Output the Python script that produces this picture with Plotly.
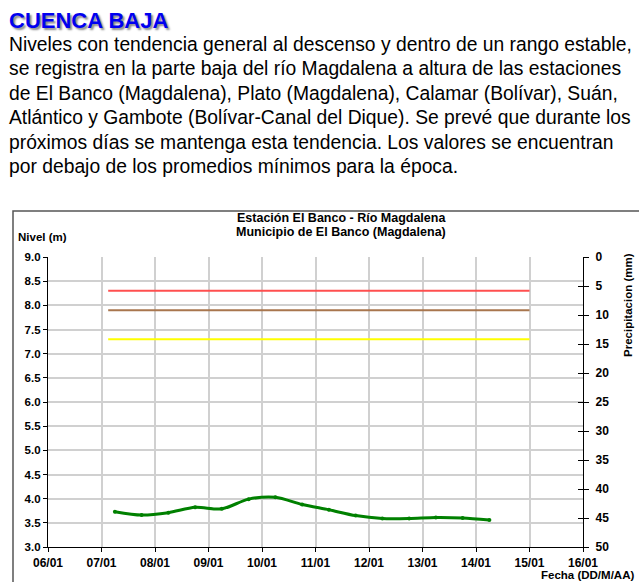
import plotly.graph_objects as go

# ---------------- data ----------------
fechas = ["2016-01-07 06:00", "2016-01-07 18:00", "2016-01-08 06:00", "2016-01-08 18:00",
          "2016-01-09 06:00", "2016-01-09 18:00", "2016-01-10 06:00", "2016-01-10 18:00",
          "2016-01-11 06:00", "2016-01-11 18:00", "2016-01-12 06:00", "2016-01-12 18:00",
          "2016-01-13 06:00", "2016-01-13 18:00", "2016-01-14 06:00"]
nivel = [3.73, 3.66, 3.71, 3.82, 3.79, 3.99, 4.03, 3.88, 3.77, 3.65, 3.59, 3.59, 3.61, 3.60, 3.56]

umbral_fechas = ["2016-01-07 03:00", "2016-01-15 00:00"]
umbral_rojo = 8.3
umbral_cafe = 7.9
umbral_amarillo = 7.3

precip_fechas = []
precip_valores = []

titulo = "CUENCA BAJA"
parrafo = [
    "Niveles con tendencia general al descenso y dentro de un rango estable,",
    "se registra en la parte baja del río Magdalena a altura de las estaciones",
    "de El Banco (Magdalena), Plato (Magdalena), Calamar (Bolívar), Suán,",
    "Atlántico y Gambote (Bolívar-Canal del Dique). Se prevé que durante los",
    "próximos días se mantenga esta tendencia. Los valores se encuentran",
    "por debajo de los promedios mínimos para la época.",
]
titulo_grafico = ["Estación El Banco - Río Magdalena", "Municipio de El Banco (Magdalena)"]

# ---------------- layout helpers ----------------
W, H = 639, 582
L, R, T, B = 48, 583, 257, 547


def px(x):
    return (x - L) / (R - L)


def py(y):
    return (B - y) / (B - T)


ARIAL = "Liberation Sans, Arial, sans-serif"

fig = go.Figure()

for val, col in [(umbral_rojo, "#FF4F4F"), (umbral_cafe, "#A8764E"), (umbral_amarillo, "#FFFF00")]:
    fig.add_trace(go.Scatter(x=umbral_fechas, y=[val, val], mode="lines",
                             line=dict(color=col, width=2), showlegend=False, hoverinfo="skip"))

fig.add_trace(go.Scatter(x=fechas, y=nivel, mode="lines+markers",
                         line=dict(color="#008000", width=3, shape="spline", smoothing=0.8),
                         marker=dict(color="#008000", size=4), showlegend=False))

fig.add_trace(go.Bar(x=precip_fechas, y=precip_valores, yaxis="y2", showlegend=False))
fig.add_trace(go.Scatter(x=[None], y=[None], yaxis="y3", showlegend=False))

tickfont = dict(family=ARIAL, size=11.5, color="#000000", weight="bold")

fig.update_layout(
    width=W, height=H,
    margin=dict(l=L, r=W - R, t=T, b=H - B, pad=0),
    paper_bgcolor="white", plot_bgcolor="white",
    xaxis=dict(type="date", range=["2016-01-06", "2016-01-16"], dtick=86400000,
               tick0="2016-01-06", tickformat="%d/%m", showgrid=True,
               gridcolor="#D0D0D0", gridwidth=1.5, showline=True, linecolor="#000000",
               linewidth=1.2, ticks="outside", ticklen=4, tickcolor="#000000",
               tickfont=dict(family=ARIAL, size=12, color="#000000", weight="bold"),
               zeroline=False),
    yaxis=dict(range=[3.0, 9.0], dtick=0.5, tickformat=".1f", showgrid=True,
               gridcolor="#D0D0D0", gridwidth=1.5, showline=True, linecolor="#000000",
               linewidth=1.2, ticks="outside", ticklen=4, tickcolor="#000000",
               tickfont=tickfont, zeroline=False),
    yaxis2=dict(range=[50, 0], dtick=5, overlaying="y", side="right", showgrid=False,
                showline=True, linecolor="#000000", linewidth=1.2, ticks="outside",
                ticklen=5, tickcolor="#000000",
                tickfont=dict(family=ARIAL, size=12, color="#000000", weight="bold"),
                ticklabelstandoff=4, zeroline=False),
    yaxis3=dict(range=[50, 0], dtick=5, overlaying="y", side="right", showgrid=False,
                showline=False, ticks="inside", ticklen=5, tickcolor="#000000",
                showticklabels=False, zeroline=False),
)

ann = []
for i, t in enumerate(titulo_grafico):
    ann.append(dict(text=t, x=px(341), y=py(218 + 13.5 * i), xref="paper", yref="paper",
                    xanchor="center", yanchor="middle", showarrow=False,
                    font=dict(family=ARIAL, size=12.5, color="#000000", weight="bold")))
ann.append(dict(text="Nivel (m)", x=px(16), y=py(237), xref="paper", yref="paper",
                xanchor="left", yanchor="middle", showarrow=False,
                font=dict(family=ARIAL, size=11.5, color="#000000", weight="bold")))
ann.append(dict(text="Precipitacion (mm)", x=px(628), y=py(305), xref="paper", yref="paper",
                xanchor="center", yanchor="middle", showarrow=False, textangle=-90,
                font=dict(family=ARIAL, size=11.5, color="#000000", weight="bold")))
ann.append(dict(text="Fecha (DD/M/AA)", x=px(636), y=py(575), xref="paper", yref="paper",
                xanchor="right", yanchor="middle", showarrow=False,
                font=dict(family=ARIAL, size=11.5, color="#000000", weight="bold")))

ann.append(dict(text=titulo, x=px(7), y=py(21), xref="paper", yref="paper",
                xanchor="left", yanchor="middle", showarrow=False,
                font=dict(family=ARIAL, size=22, color="#0000F0", weight="bold",
                          shadow="2px 2px 2px #8a8a8a")))

baselines = [50, 74.5, 99, 123.5, 148, 172.5, 197]
for i, line in enumerate(parrafo):
    ann.append(dict(text=line, x=px(7), y=py(baselines[i] - 6), xref="paper", yref="paper",
                    xanchor="left", yanchor="middle", showarrow=False,
                    font=dict(family=ARIAL, size=19.3, color="#000000")))

fig.update_layout(annotations=ann)

fig.add_shape(type="rect", xref="paper", yref="paper", x0=px(13), x1=px(660),
              y0=py(600), y1=py(211), line=dict(color="#555555", width=1.5), layer="below")

fig.write_html("out.html", config={"displayModeBar": False},
               post_script="document.body.style.margin='0px';")
